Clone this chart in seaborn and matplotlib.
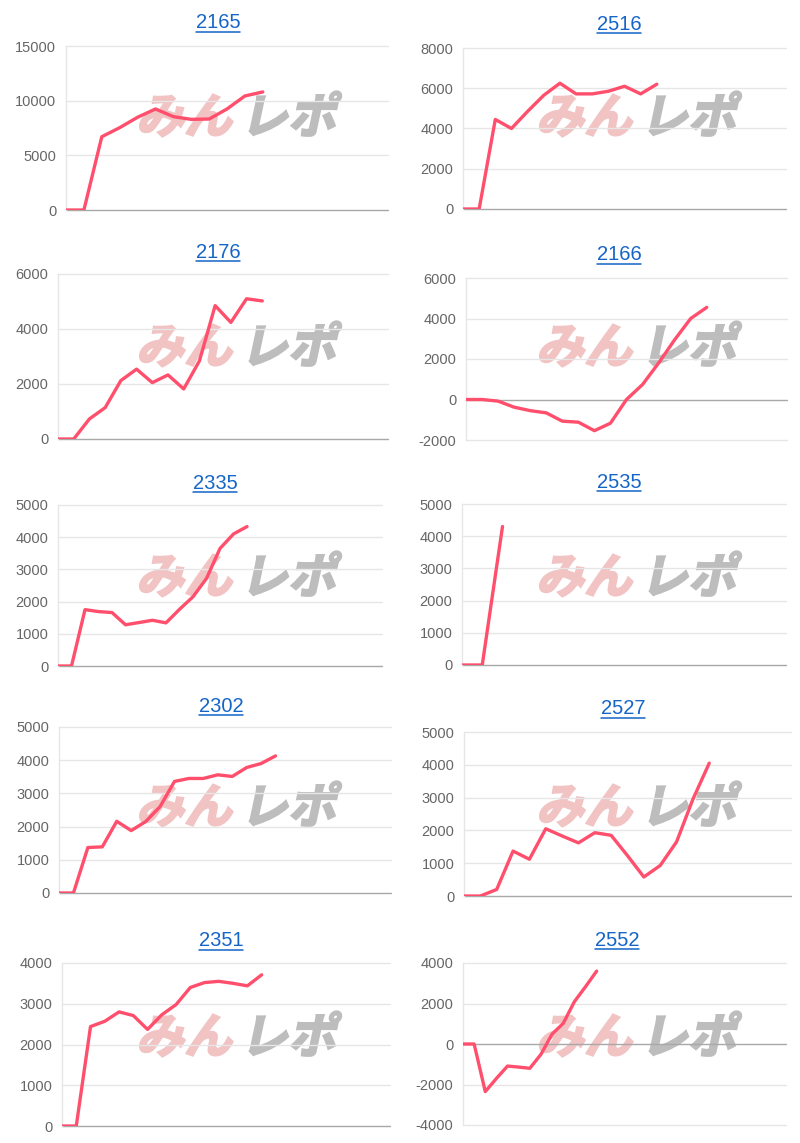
import pandas as pd
import seaborn as sns
import matplotlib.pyplot as plt
from matplotlib.textpath import TextPath
from matplotlib.patches import PathPatch
from matplotlib.font_manager import FontProperties
from matplotlib.transforms import Affine2D, IdentityTransform
from matplotlib.lines import Line2D

# chart data
titles = ["2165", "2516", "2176", "2166", "2335", "2535", "2302", "2527", "2351", "2552"]
x_slots = [18, 20, 21, 20, 24, 16, 23, 20, 23, 29]
v2165 = [0, 0, 6700, 7530, 8480, 9240, 8540, 8290, 8320, 9240, 10430, 10800]
v2516 = [0, 0, 4450, 4000, 4850, 5650, 6250, 5720, 5720, 5850, 6100, 5720, 6200]
v2176 = [0, 0, 730, 1140, 2125, 2540, 2050, 2330, 1820, 2840, 4850, 4240, 5100, 5020]
v2166 = [0, 0, -80, -380, -550, -660, -1070, -1120, -1540, -1170, 0, 740, 1800, 2950, 4000, 4550]
v2335 = [0, 0, 1750, 1690, 1660, 1280, 1350, 1420, 1340, 1760, 2150, 2720, 3650, 4100, 4330]
v2535 = [0, 0, 4300]
v2302 = [0, 0, 1370, 1390, 2160, 1880, 2150, 2600, 3360, 3450, 3450, 3560, 3510, 3780, 3900, 4130]
v2527 = [0, 0, 200, 1370, 1120, 2050, 1830, 1620, 1930, 1850, 1230, 580, 930, 1650, 2950, 4050]
v2351 = [0, 0, 2440, 2570, 2800, 2710, 2370, 2730, 2980, 3400, 3520, 3550, 3500, 3440, 3710]
v2552 = [0, 0, -2350, -1700, -1090, -1140, -1200, -510, 490, 1020, 2090, 2830, 3600]
series = [v2165, v2516, v2176, v2166, v2335, v2535, v2302, v2527, v2351, v2552]
y_ticks = [
    [0, 5000, 10000, 15000],
    [0, 2000, 4000, 6000, 8000],
    [0, 2000, 4000, 6000],
    [-2000, 0, 2000, 4000, 6000],
    [0, 1000, 2000, 3000, 4000, 5000],
    [0, 1000, 2000, 3000, 4000, 5000],
    [0, 1000, 2000, 3000, 4000, 5000],
    [0, 1000, 2000, 3000, 4000, 5000],
    [0, 1000, 2000, 3000, 4000],
    [-4000, -2000, 0, 2000, 4000],
]

W, H = 800, 1143
# plot areas in pixels: left, top, right, bottom
boxes = [
    (66, 46, 388, 210), (463, 48, 786, 209),
    (58, 274, 388, 439), (466, 278, 787, 440),
    (58, 505, 382, 666), (462, 504, 786, 665),
    (59, 727, 391, 893), (464, 732, 791, 896),
    (62, 963, 390, 1126), (463, 963, 786, 1125),
]
title_pos = [
    (218, 23), (619, 24), (218, 253), (619, 255), (215, 483),
    (619, 482), (221, 706), (623, 709), (221, 941), (617, 940),
]

sns.set_theme(style="white")
plt.rcParams['font.family'] = ['Liberation Sans', 'DejaVu Sans']

fig = plt.figure(figsize=(W / 100, H / 100), dpi=100)

line_color = '#ff4f6d'
grid_color = '#e6e6e6'
wm_font = FontProperties(family='Noto Sans CJK JP', weight='bold')

title_texts = []
for i, name in enumerate(titles):
    l, t, r, b = boxes[i]
    ax = fig.add_axes([l / W, 1 - b / H, (r - l) / W, (b - t) / H])
    ax.set_facecolor('none')
    df = pd.DataFrame({'x': range(len(series[i])), 'y': series[i]})
    sns.lineplot(data=df, x='x', y='y', ax=ax, color=line_color, linewidth=2.4, zorder=5)
    ticks = y_ticks[i]
    ax.set_xlim(0, x_slots[i])
    ax.set_ylim(ticks[0], ticks[-1])
    ax.set_yticks(ticks)
    ax.set_yticklabels([str(v) for v in ticks])
    ax.set_xticks([])
    ax.set_xlabel('')
    ax.set_ylabel('')
    for v in ticks:
        c = '#a8a8a8' if v == 0 else grid_color
        ax.axhline(v, color=c, linewidth=1.0, zorder=1, clip_on=False)
    for s in ['top', 'right', 'bottom']:
        ax.spines[s].set_visible(False)
    ax.spines['left'].set_color(grid_color)
    ax.spines['left'].set_linewidth(1.0)
    ax.tick_params(axis='y', length=4, color=grid_color, labelsize=10.5,
                   labelcolor='#666666', pad=3)

    tx, ty = title_pos[i]
    tt = fig.text(tx / W, 1 - ty / H, name, ha='center', va='center',
                  fontsize=14.5, color='#1565c8')
    title_texts.append(tt)

    # watermark
    px = 0 if i % 2 == 0 else 400
    py = [0, 230, 460, 690, 920][i // 2]
    base_y = H - (py + 133)
    for txt, col, xoff in [("みん", '#f2c3c3', 136), ("レポ", '#bdbdbd', 240)]:
        path = TextPath((0, 0), txt, size=48, prop=wm_font)
        tr = Affine2D().skew_deg(12, 0).translate(px + xoff, base_y)
        patch = PathPatch(tr.transform_path(path), facecolor=col, edgecolor=col,
                          linewidth=1.6, transform=IdentityTransform(), zorder=-1)
        fig.add_artist(patch)

# underline the titles like links
fig.canvas.draw()
renderer = fig.canvas.get_renderer()
inv = fig.transFigure.inverted()
for tt in title_texts:
    bb = tt.get_window_extent(renderer)
    (x0, y0), (x1, _) = inv.transform([(bb.x0, bb.y0 + 1), (bb.x1, bb.y0 + 1)])
    fig.add_artist(Line2D([x0, x1], [y0, y0], color='#1565c8', linewidth=1.1,
                          transform=fig.transFigure))

fig.savefig('out.png', dpi=100)
